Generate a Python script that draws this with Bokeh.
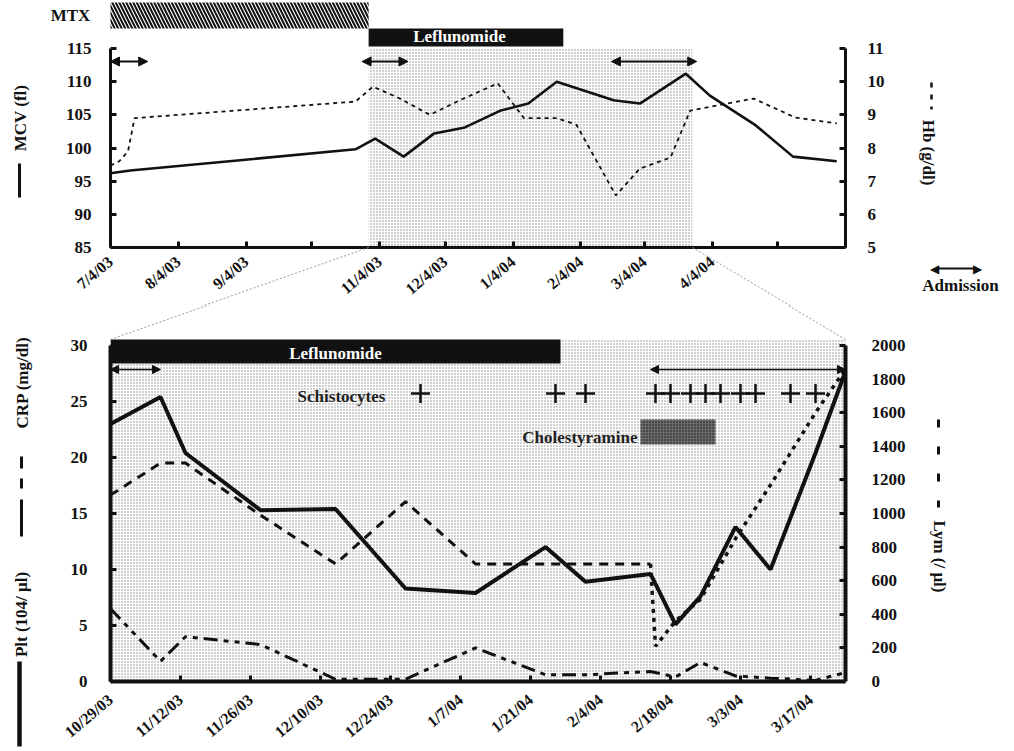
import math
import pandas as pd
from bokeh.plotting import figure
from bokeh.models import Range1d, LinearAxis, FixedTicker, Label, Arrow, NormalHead
from bokeh.core.properties import value
from bokeh.layouts import column
from bokeh.embed import file_html
from bokeh.resources import INLINE

# ---------------- data : upper panel (MCV / Hb) ----------------
top_axis_dates = ["7/4/03", "8/4/03", "9/4/03", "10/4/03", "11/4/03", "12/4/03",
                  "1/4/04", "2/4/04", "3/4/04", "4/4/04", "5/4/04", "6/4/04"]
top_axis_labels = ["7/4/03", "8/4/03", "9/4/03", "", "11/4/03", "12/4/03",
                   "1/4/04", "2/4/04", "3/4/04", "4/4/04", "", ""]
mcv_ticks = [85, 90, 95, 100, 105, 110, 115]
hb_ticks = [5, 6, 7, 8, 9, 10, 11]

mcv_dates = ["7/4/03", "7/13/03", "10/24/03", "11/2/03", "11/15/03", "11/29/03",
             "12/13/03", "12/29/03", "1/11/04", "1/24/04", "2/19/04", "3/2/04",
             "3/23/04", "4/3/04", "4/24/04", "5/11/04", "5/31/04"]
mcv_values = [96.2, 96.6, 99.8, 101.4, 98.7, 102.2, 103.1, 105.6, 106.7, 110.0,
              107.2, 106.7, 111.2, 107.9, 103.4, 98.7, 98.0]

hb_dates = ["7/4/03", "7/8/03", "7/12/03", "7/15/03", "10/24/03", "11/1/03",
            "11/13/03", "11/27/03", "12/11/03", "12/28/03", "1/9/04", "1/24/04",
            "2/2/04", "2/20/04", "3/2/04", "3/16/04", "3/25/04", "4/23/04",
            "5/12/04", "5/31/04"]
hb_values = [7.47, 7.6, 7.9, 8.9, 9.4, 9.85, 9.5, 9.0, 9.45, 9.95, 8.9, 8.9,
             8.7, 6.57, 7.38, 7.71, 9.13, 9.49, 8.92, 8.74]

mtx_period = ["7/3/03", "10/30/03"]
top_lef_period = ["10/30/03", "1/27/04"]
top_shade_period = ["10/30/03", "3/26/04"]
top_adm_start = ["7/4/03", "10/27/03", "2/18/04"]
top_adm_end = ["7/21/03", "11/17/03", "3/28/04"]

# ---------------- data : lower panel (Plt / CRP / Lym) ----------------
bot_range = ["10/29/03", "3/24/04"]
bot_axis_dates = ["10/29/03", "11/12/03", "11/26/03", "12/10/03", "12/24/03", "1/7/04",
                  "1/21/04", "2/4/04", "2/18/04", "3/3/04", "3/17/04"]
left_ticks = [0, 5, 10, 15, 20, 25, 30]
lym_ticks = [0, 200, 400, 600, 800, 1000, 1200, 1400, 1600, 1800, 2000]

lab_dates = ["10/29/03", "11/8/03", "11/13/03", "11/28/03", "12/13/03", "12/27/03",
             "1/10/04", "1/24/04", "2/1/04", "2/14/04", "2/19/04", "2/24/04",
             "3/2/04", "3/9/04", "3/18/04", "3/24/04"]
plt_values = [23.0, 25.4, 20.4, 15.3, 15.4, 8.3, 7.9, 12.0, 8.9, 9.6, 5.1, 7.6,
              13.8, 10.0, 20.4, 27.7]
crp_values = [6.5, 1.8, 4.0, 3.3, 0.2, 0.2, 3.0, 0.6, 0.6, 0.9, 0.4, 1.7,
              0.5, 0.3, 0.1, 0.8]

lym_dates = ["10/29/03", "11/8/03", "11/13/03", "11/28/03", "12/13/03", "12/27/03",
             "1/10/04", "1/24/04", "2/1/04", "2/14/04", "2/15/04", "2/19/04",
             "2/24/04", "3/2/04", "3/9/04", "3/18/04", "3/24/04"]
lym_values = [1110, 1300, 1300, 990, 700, 1070, 700, 700, 700, 700, 210, 360,
              490, 850, 1170, 1600, 1860]
lym_style_change = "2/14/04"

schisto_dates = ["12/30/03", "1/26/04", "2/1/04", "2/15/04", "2/18/04", "2/22/04",
                 "2/25/04", "2/28/04", "3/3/04", "3/6/04", "3/13/04", "3/18/04"]
bot_lef_period = ["10/29/03", "1/27/04"]
chol_period = ["2/12/04", "2/27/04"]
bot_adm_start = ["10/29/03", "2/14/04"]
bot_adm_end = ["11/8/03", "3/24/04"]

# ---------------- helpers ----------------
FONT = "Liberation Serif"
INK = "#111111"


def to_dt(s):
    return pd.to_datetime(s, format="%m/%d/%y")


def days(s, origin):
    return float((to_dt(s) - to_dt(origin)).days)


TOP0 = top_axis_dates[0]
TOP_SPAN = days(top_axis_dates[-1], TOP0)
BOT0 = bot_range[0]
BOT_SPAN = days(bot_range[1], BOT0)

# layout (page pixels; canvas of the upper figure starts at page 0,0)
FRAME_LEFT = 110
FRAME_W = 735
TOP_H = 305
TOP_FRAME_BOT = 247
TOP_Y115 = 48
BOT_FRAME_TOP, BOT_FRAME_BOT = 338, 680
BOT_Y30 = 344

TOP_PX_DAY = FRAME_W / TOP_SPAN
TOP_PX_UNIT = (TOP_FRAME_BOT - TOP_Y115) / 30.0
BOT_PX_DAY = FRAME_W / BOT_SPAN
BOT_PX_UNIT = (BOT_FRAME_BOT - BOT_Y30) / 30.0


def top_x(px):
    return (px - FRAME_LEFT) / TOP_PX_DAY


def top_y(py):
    return 85 + (TOP_FRAME_BOT - py) / TOP_PX_UNIT


def bot_x(px):
    return (px - FRAME_LEFT) / BOT_PX_DAY


def bot_y(py):
    return (BOT_FRAME_BOT - py) / BOT_PX_UNIT


def style_axis(ax, size="17px", lw=3):
    ax.axis_line_width = lw
    ax.axis_line_color = INK
    ax.major_tick_in = 6
    ax.major_tick_out = 0
    ax.major_tick_line_width = 3
    ax.major_tick_line_color = INK
    ax.minor_tick_line_color = None
    ax.major_label_text_font = FONT
    ax.major_label_text_font_style = "bold"
    ax.major_label_text_font_size = size
    ax.major_label_text_color = INK


def label(fig, x, y, text, size="17px", color=INK, align="center"):
    fig.add_layout(Label(x=x, y=y, text=text, text_font=FONT,
                         text_font_style="bold", text_font_size=size,
                         text_color=color, text_align=align,
                         text_baseline="middle"))


def note(fig, x, y, text, angle=0.0, size="17px", color=INK, align="center", font=FONT):
    """Text drawn in the margins around the frame (overlay level, not clipped)."""
    fig.text(x=[x], y=[y], text=[text], angle=angle, text_font=value(font),
             text_font_style="bold", text_font_size=size, text_color=color,
             text_align=align, text_baseline="middle", level="overlay")


def mark(fig, x0, y0, x1, y1, lw=3, dash="solid", color=INK):
    """Key symbols and connector lines in the margins (overlay level)."""
    fig.segment(x0=[x0], y0=[y0], x1=[x1], y1=[y1], line_width=lw, line_dash=dash,
                line_color=color, line_cap="butt", level="overlay")


def dbl_arrow(fig, x0, x1, y, lw, head):
    fig.add_layout(Arrow(x_start=x0, y_start=y, x_end=x1, y_end=y, line_width=lw,
                         line_color=INK,
                         start=NormalHead(size=head, fill_color=INK, line_color=INK, line_width=1),
                         end=NormalHead(size=head, fill_color=INK, line_color=INK, line_width=1)))


# ---------------- upper figure ----------------
top_y_end = top_y(0)
top = figure(frame_width=FRAME_W, frame_height=TOP_FRAME_BOT,
             min_border_left=FRAME_LEFT, min_border_right=167,
             min_border_top=0, min_border_bottom=TOP_H - TOP_FRAME_BOT,
             x_range=Range1d(0, TOP_SPAN), y_range=Range1d(85, top_y_end),
             output_backend="svg", toolbar_location=None)
top.extra_y_ranges = {"hb": Range1d(5, 5 + (top_y_end - 85) / 5.0)}
top.xgrid.visible = False
top.ygrid.visible = False
top.outline_line_color = None

style_axis(top.yaxis[0])
top.yaxis[0].bounds = (85, 115)
top.yaxis[0].ticker = FixedTicker(ticks=mcv_ticks)
top.yaxis[0].major_label_standoff = 19

hb_axis = LinearAxis(y_range_name="hb", bounds=(5, 11), ticker=FixedTicker(ticks=hb_ticks))
style_axis(hb_axis)
hb_axis.major_label_standoff = 22
top.add_layout(hb_axis, "right")

tx_ticks = [days(d, TOP0) for d in top_axis_dates]
style_axis(top.xaxis[0], size="16px")
top.xaxis[0].ticker = FixedTicker(ticks=tx_ticks)
top.xaxis[0].major_label_overrides = {t: l for t, l in zip(tx_ticks, top_axis_labels)}
top.xaxis[0].major_label_orientation = 0.70
top.xaxis[0].major_label_standoff = 12

# stippled treatment period
top.quad(left=[days(top_shade_period[0], TOP0)], right=[days(top_shade_period[1], TOP0)],
         bottom=[85], top=[115], fill_color="white", line_color=None,
         hatch_pattern="dot", hatch_color="#8a8a8a", hatch_scale=3, hatch_weight=1)
# MTX hatched bar
top.quad(left=[days(mtx_period[0], TOP0)], right=[days(mtx_period[1], TOP0)],
         bottom=[top_y(28)], top=[top_y(2)], fill_color="white", line_color=None,
         hatch_pattern="\\", hatch_color=INK, hatch_scale=7, hatch_weight=2)
# Leflunomide bar
lef_l, lef_r = days(top_lef_period[0], TOP0), days(top_lef_period[1], TOP0)
top.quad(left=[lef_l], right=[lef_r], bottom=[top_y(46)], top=[top_y(28)],
         fill_color=INK, line_color=None)
label(top, (lef_l + lef_r) / 2 - 3, top_y(36), "Leflunomide", color="white")

top.line([days(d, TOP0) for d in mcv_dates], mcv_values, line_width=2.6, color=INK)
top.line([days(d, TOP0) for d in hb_dates], hb_values, y_range_name="hb",
         line_width=1.8, color=INK, line_dash="4 4")

for s, e in zip(top_adm_start, top_adm_end):
    dbl_arrow(top, days(s, TOP0), days(e, TOP0), top_y(61), 2, 9)

# margin texts and key symbols
note(top, top_x(70), top_y(15), "MTX")
note(top, top_x(20), top_y(117.5), "MCV (fl)", angle=math.pi / 2)
mark(top, top_x(19), top_y(163), top_x(19), top_y(197), lw=3)
note(top, top_x(928), top_y(152), "Hb (g/dl)", angle=-math.pi / 2)
mark(top, top_x(931), top_y(82), top_x(931), top_y(109), lw=2.5, dash="5 7")
# admission key
mark(top, top_x(935), top_y(268), top_x(976), top_y(268), lw=2)
note(top, top_x(934), top_y(268), "\u25C0", size="12px", font="DejaVu Sans")
note(top, top_x(977), top_y(268), "\u25B6", size="12px", font="DejaVu Sans")
note(top, top_x(960), top_y(285), "Admission")

# zoom connectors (upper part)
sh0 = days(top_shade_period[0], TOP0)
sh1 = days(top_shade_period[1], TOP0)
mark(top, sh0, 85, top_x(FRAME_LEFT), top_y(BOT_FRAME_TOP), lw=1, dash="2 2", color="#9a9a9a")
mark(top, sh1, 85, top_x(FRAME_LEFT + FRAME_W), top_y(BOT_FRAME_TOP), lw=1, dash="2 2",
     color="#9a9a9a")

# ---------------- lower figure ----------------
bot_y_end = bot_y(BOT_FRAME_TOP)
bot = figure(frame_width=FRAME_W, frame_height=BOT_FRAME_BOT - BOT_FRAME_TOP,
             min_border_left=FRAME_LEFT, min_border_right=167,
             min_border_top=BOT_FRAME_TOP - TOP_H, min_border_bottom=66,
             x_range=Range1d(0, BOT_SPAN), y_range=Range1d(0, bot_y_end),
             output_backend="svg", toolbar_location=None)
bot.extra_y_ranges = {"lym": Range1d(0, bot_y_end * 2000 / 30.0)}
bot.xgrid.visible = False
bot.ygrid.visible = False
bot.outline_line_color = None

style_axis(bot.yaxis[0], lw=4)
bot.yaxis[0].bounds = (0, 30)
bot.yaxis[0].ticker = FixedTicker(ticks=left_ticks)
bot.yaxis[0].major_label_standoff = 23

lym_axis = LinearAxis(y_range_name="lym", bounds=(0, 2000), ticker=FixedTicker(ticks=lym_ticks))
style_axis(lym_axis, lw=4)
lym_axis.major_label_standoff = 26
bot.add_layout(lym_axis, "right")

bx_ticks = [days(d, BOT0) for d in bot_axis_dates]
style_axis(bot.xaxis[0], size="16px", lw=4)
bot.xaxis[0].ticker = FixedTicker(ticks=bx_ticks)
bot.xaxis[0].major_label_overrides = {t: l for t, l in zip(bx_ticks, bot_axis_dates)}
bot.xaxis[0].major_label_orientation = 0.70
bot.xaxis[0].major_label_standoff = 16

bot.quad(left=[0], right=[BOT_SPAN], bottom=[0], top=[bot_y_end], fill_color="white",
         line_color=None, hatch_pattern="dot", hatch_color="#8a8a8a", hatch_scale=3,
         hatch_weight=1)
bl_l, bl_r = days(bot_lef_period[0], BOT0), days(bot_lef_period[1], BOT0)
bot.quad(left=[bl_l], right=[bl_r], bottom=[bot_y(362)], top=[bot_y(330)],
         fill_color=INK, line_color=None)
label(bot, (bl_l + bl_r) / 2, bot_y(352), "Leflunomide", color="white")

cl_l, cl_r = days(chol_period[0], BOT0), days(chol_period[1], BOT0)
bot.quad(left=[cl_l], right=[cl_r], bottom=[bot_y(443)], top=[bot_y(418)],
         fill_color="#6a6a6a", line_color=None, hatch_pattern="dot",
         hatch_color="#151515", hatch_scale=3, hatch_weight=1)
label(bot, bot_x(637), bot_y(436), "Cholestyramine", color="#222222", align="right")

label(bot, bot_x(341), bot_y(395), "Schistocytes", color="#222222")
bot.scatter([days(d, BOT0) for d in schisto_dates], [bot_y(392)] * len(schisto_dates),
            marker="cross", size=19, line_width=2.5, color=INK)

lab_x = [days(d, BOT0) for d in lab_dates]
bot.line(lab_x, crp_values, line_width=3, color=INK, line_dash="14 6 5 6 5 6")
lym_x = [days(d, BOT0) for d in lym_dates]
k = lym_dates.index(lym_style_change)
bot.line(lym_x[:k + 1], lym_values[:k + 1], y_range_name="lym", line_width=3,
         color=INK, line_dash="9 7")
bot.line(lym_x[k:], lym_values[k:], y_range_name="lym", line_width=3.5,
         color=INK, line_dash="4 5")
bot.line(lab_x, plt_values, line_width=4, color=INK)

for s, e in zip(bot_adm_start, bot_adm_end):
    dbl_arrow(bot, days(s, BOT0), days(e, BOT0), bot_y(368), 1.3, 8)

# margin titles and key symbols
note(bot, bot_x(22), bot_y(381), "CRP (mg/dl)", angle=math.pi / 2)
mark(bot, bot_x(21), bot_y(455), bot_x(21), bot_y(487), lw=3, dash="12 10")
mark(bot, bot_x(21), bot_y(498), bot_x(21), bot_y(535), lw=3)
note(bot, bot_x(21), bot_y(613), "Plt (104/ \u03bcl)", angle=math.pi / 2)
mark(bot, bot_x(19), bot_y(660), bot_x(19), bot_y(745), lw=4.5)
note(bot, bot_x(939), bot_y(555), "Lym (/ \u03bcl)", angle=-math.pi / 2)
mark(bot, bot_x(938), bot_y(418), bot_x(938), bot_y(506), lw=3, dash="8 19")

# zoom connectors (lower part)
sh0_px = FRAME_LEFT + sh0 * TOP_PX_DAY
sh1_px = FRAME_LEFT + sh1 * TOP_PX_DAY
mark(bot, bot_x(FRAME_LEFT), bot_y_end, bot_x(sh0_px), bot_y(TOP_FRAME_BOT), lw=1,
     dash="2 2", color="#9a9a9a")
mark(bot, bot_x(FRAME_LEFT + FRAME_W), bot_y_end, bot_x(sh1_px), bot_y(TOP_FRAME_BOT), lw=1,
     dash="2 2", color="#9a9a9a")

layout = column(top, bot, spacing=0)
open("out.html", "w").write(file_html(layout, INLINE))
